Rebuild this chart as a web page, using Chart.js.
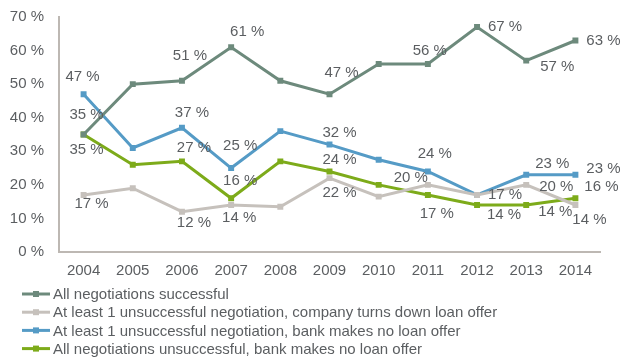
<!DOCTYPE html>
<html>
<head>
<meta charset="utf-8">
<script src="https://cdn.jsdelivr.net/npm/chart.js@4.4.1/dist/chart.umd.min.js"></script>
<style>
  html, body { margin: 0; padding: 0; background: #ffffff; }
  #wrap { width: 622px; height: 359px; position: relative; }
</style>
</head>
<body>
<div id="wrap"><canvas id="chart" width="622" height="359"></canvas></div>
<script>
// Loan negotiation outcomes, share of companies (%), 2004–2014
const years = ['2004', '2005', '2006', '2007', '2008', '2009', '2010', '2011', '2012', '2013', '2014'];
const seriesNames = [
  'All negotiations successful',
  'At least 1 unsuccessful negotiation, company turns down loan offer',
  'At least 1 unsuccessful negotiation, bank makes no loan offer',
  'All negotiations unsuccessful, bank makes no loan offer'
];
const allSuccessful      = [35, 50, 51, 61, 51, 47, 56, 56, 67, 57, 63];
const companyTurnsDown   = [17, 19, 12, 14, 13.5, 22, 16.5, 20, 17, 20, 14];
const bankNoOfferPartial = [47, 31, 37, 25, 36, 32, 27.5, 24, 17, 23, 23];
const bankNoOfferAll     = [35, 26, 27, 16, 27, 24, 20, 17, 14, 14, 16];
const yTicks = [0, 10, 20, 30, 40, 50, 60, 70];

// Which points carry a value label, and where the label sits relative to its point [dx, dy]
const labelPlacement = [
  [[3, -20], null, [8, -25], [16, -15], null, [12, -21], null, [2, -13], [28, 0], [31, 6], [28, 0]],
  [[8, 9], null, [12, 11], [8, 13], null, [10, 15], null, [-17, -7], null, [30, 2], [14, 15]],
  [[-1, -17], null, [10, -15], [9, -22], null, [10, -12], null, [7, -18], [28, 0], [26, -11], [28, -6]],
  [[3, 15], null, [12, -13], [9, -17], null, [10, -12], null, [9, 19], [27, 10], [29, 7], [26, -11]]
];

const colors = ['#6d8a7c', '#c6c1bc', '#559bc6', '#7dab1a'];
const textColor = '#5b5e61';
const fontFamily = '"Liberation Sans", Arial, sans-serif';

const seriesValues = [allSuccessful, companyTurnsDown, bankNoOfferPartial, bankNoOfferAll];

const datasets = seriesValues.map((vals, i) => ({
  label: seriesNames[i],
  data: vals,
  borderColor: colors[i],
  backgroundColor: colors[i],
  borderWidth: 3,
  pointStyle: 'rect',
  pointRadius: 4.2,
  pointBorderWidth: 0,
  pointHoverRadius: 4.2,
  tension: 0,
  fill: false
}));

// Value labels drawn next to selected points
const valueLabels = {
  id: 'valueLabels',
  afterDatasetsDraw(chart) {
    const ctx = chart.ctx;
    ctx.save();
    ctx.font = '15px ' + fontFamily;
    ctx.fillStyle = textColor;
    ctx.textAlign = 'center';
    ctx.textBaseline = 'middle';
    chart.data.datasets.forEach((ds, di) => {
      const meta = chart.getDatasetMeta(di);
      meta.data.forEach((pt, pi) => {
        const off = labelPlacement[di][pi];
        if (!off) return;
        ctx.fillText(Math.round(ds.data[pi]) + ' %', pt.x + off[0], pt.y + off[1]);
      });
    });
    ctx.restore();
  }
};

// Vertical legend below the axis: line with a square marker, then the series name
const stackedLegend = {
  id: 'stackedLegend',
  afterDraw(chart) {
    const ctx = chart.ctx;
    const area = chart.chartArea;
    ctx.save();
    ctx.font = '15px ' + fontFamily;
    ctx.textBaseline = 'middle';
    ctx.textAlign = 'left';
    chart.data.datasets.forEach((ds, i) => {
      const y = area.bottom + 42 + i * 18.2;
      const x0 = 22, x1 = 50;
      ctx.strokeStyle = ds.borderColor;
      ctx.lineWidth = 3;
      ctx.beginPath();
      ctx.moveTo(x0, y);
      ctx.lineTo(x1, y);
      ctx.stroke();
      ctx.fillStyle = ds.borderColor;
      ctx.fillRect((x0 + x1) / 2 - 3, y - 3, 6, 6);
      ctx.fillStyle = textColor;
      ctx.fillText(ds.label, 53, y + 1);
    });
    ctx.restore();
  }
};

new Chart(document.getElementById('chart'), {
  type: 'line',
  data: { labels: years, datasets },
  plugins: [valueLabels, stackedLegend],
  options: {
    responsive: false,
    animation: false,
    events: [],
    layout: { padding: { left: 10, right: 22, top: 17, bottom: 69 } },
    plugins: {
      legend: { display: false },
      tooltip: { enabled: false }
    },
    scales: {
      x: {
        offset: true,
        grid: { display: false, drawTicks: false },
        border: { display: true, color: '#bdb8b3', width: 2 },
        ticks: {
          color: textColor,
          font: { family: fontFamily, size: 15 },
          padding: 10,
          maxRotation: 0,
          autoSkip: false
        }
      },
      y: {
        min: 0,
        max: 70,
        afterBuildTicks(scale) { scale.ticks = yTicks.map(v => ({ value: v })); },
        afterFit(scale) {
          scale.width = 49;
          scale.paddingTop = 0;
          scale.paddingBottom = 0;
        },
        grid: { display: false, drawTicks: false },
        border: { display: true, color: '#bdb8b3', width: 2 },
        ticks: {
          color: textColor,
          font: { family: fontFamily, size: 15 },
          padding: 15,
          callback: v => v + ' %'
        }
      }
    }
  }
});
</script>
</body>
</html>
